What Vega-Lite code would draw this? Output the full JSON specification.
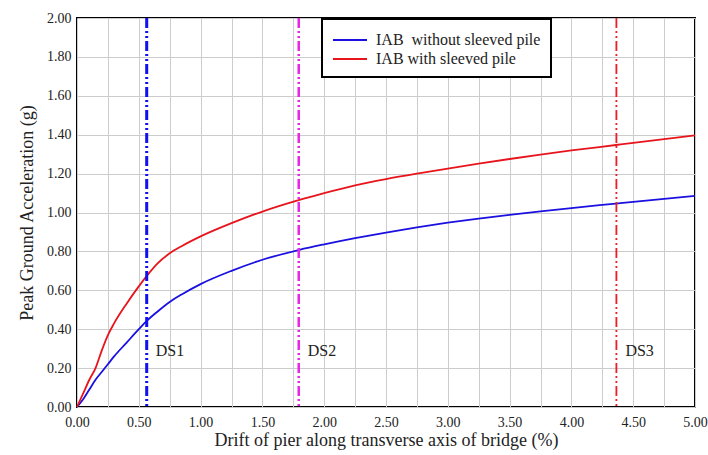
{
  "$schema": "https://vega.github.io/schema/vega-lite/v6.json",
  "width": 618,
  "height": 389,
  "autosize": "none",
  "padding": {"left": 77, "top": 18, "right": 13, "bottom": 48},
  "background": "white",
  "config": {
    "view": {"stroke": "black", "strokeWidth": 2},
    "font": "'Liberation Serif', 'Times New Roman', serif",
    "legend": {"strokeWidth": 2},
    "axis": {
      "domain": false,
      "ticks": false,
      "grid": true,
      "gridColor": "#cccccc",
      "gridWidth": 1,
      "labelFont": "'Liberation Serif', 'Times New Roman', serif",
      "labelFontSize": 14,
      "labelColor": "#222222",
      "labelOverlap": false,
      "titleFont": "'Liberation Serif', 'Times New Roman', serif",
      "titleFontSize": 18,
      "titleFontWeight": "normal",
      "titleColor": "#222222"
    }
  },
  "datasets": {
    "curves": [
      {"drift": 0, "pga": 0, "series": "IAB\u00a0 without sleeved pile"},
      {"drift": 0.05, "pga": 0.04, "series": "IAB\u00a0 without sleeved pile"},
      {"drift": 0.1, "pga": 0.09, "series": "IAB\u00a0 without sleeved pile"},
      {"drift": 0.15, "pga": 0.14, "series": "IAB\u00a0 without sleeved pile"},
      {"drift": 0.2, "pga": 0.18, "series": "IAB\u00a0 without sleeved pile"},
      {"drift": 0.25, "pga": 0.22, "series": "IAB\u00a0 without sleeved pile"},
      {"drift": 0.3, "pga": 0.26, "series": "IAB\u00a0 without sleeved pile"},
      {"drift": 0.4, "pga": 0.33, "series": "IAB\u00a0 without sleeved pile"},
      {"drift": 0.5, "pga": 0.40, "series": "IAB\u00a0 without sleeved pile"},
      {"drift": 0.56, "pga": 0.44, "series": "IAB\u00a0 without sleeved pile"},
      {"drift": 0.65, "pga": 0.49, "series": "IAB\u00a0 without sleeved pile"},
      {"drift": 0.75, "pga": 0.54, "series": "IAB\u00a0 without sleeved pile"},
      {"drift": 0.85, "pga": 0.58, "series": "IAB\u00a0 without sleeved pile"},
      {"drift": 1.0, "pga": 0.632, "series": "IAB\u00a0 without sleeved pile"},
      {"drift": 1.25, "pga": 0.70, "series": "IAB\u00a0 without sleeved pile"},
      {"drift": 1.5, "pga": 0.757, "series": "IAB\u00a0 without sleeved pile"},
      {"drift": 1.8, "pga": 0.808, "series": "IAB\u00a0 without sleeved pile"},
      {"drift": 2.0, "pga": 0.836, "series": "IAB\u00a0 without sleeved pile"},
      {"drift": 2.25, "pga": 0.868, "series": "IAB\u00a0 without sleeved pile"},
      {"drift": 2.5, "pga": 0.897, "series": "IAB\u00a0 without sleeved pile"},
      {"drift": 2.75, "pga": 0.924, "series": "IAB\u00a0 without sleeved pile"},
      {"drift": 3.0, "pga": 0.948, "series": "IAB\u00a0 without sleeved pile"},
      {"drift": 3.25, "pga": 0.969, "series": "IAB\u00a0 without sleeved pile"},
      {"drift": 3.5, "pga": 0.988, "series": "IAB\u00a0 without sleeved pile"},
      {"drift": 3.75, "pga": 1.006, "series": "IAB\u00a0 without sleeved pile"},
      {"drift": 4.0, "pga": 1.023, "series": "IAB\u00a0 without sleeved pile"},
      {"drift": 4.36, "pga": 1.046, "series": "IAB\u00a0 without sleeved pile"},
      {"drift": 4.5, "pga": 1.055, "series": "IAB\u00a0 without sleeved pile"},
      {"drift": 5.0, "pga": 1.086, "series": "IAB\u00a0 without sleeved pile"},
      {"drift": 0, "pga": 0, "series": "IAB with sleeved pile"},
      {"drift": 0.05, "pga": 0.07, "series": "IAB with sleeved pile"},
      {"drift": 0.1, "pga": 0.14, "series": "IAB with sleeved pile"},
      {"drift": 0.15, "pga": 0.2, "series": "IAB with sleeved pile"},
      {"drift": 0.2, "pga": 0.29, "series": "IAB with sleeved pile"},
      {"drift": 0.25, "pga": 0.37, "series": "IAB with sleeved pile"},
      {"drift": 0.3, "pga": 0.43, "series": "IAB with sleeved pile"},
      {"drift": 0.4, "pga": 0.53, "series": "IAB with sleeved pile"},
      {"drift": 0.5, "pga": 0.62, "series": "IAB with sleeved pile"},
      {"drift": 0.56, "pga": 0.67, "series": "IAB with sleeved pile"},
      {"drift": 0.65, "pga": 0.737, "series": "IAB with sleeved pile"},
      {"drift": 0.75, "pga": 0.79, "series": "IAB with sleeved pile"},
      {"drift": 0.85, "pga": 0.828, "series": "IAB with sleeved pile"},
      {"drift": 1.0, "pga": 0.877, "series": "IAB with sleeved pile"},
      {"drift": 1.25, "pga": 0.945, "series": "IAB with sleeved pile"},
      {"drift": 1.5, "pga": 1.005, "series": "IAB with sleeved pile"},
      {"drift": 1.8, "pga": 1.065, "series": "IAB with sleeved pile"},
      {"drift": 2.0, "pga": 1.10, "series": "IAB with sleeved pile"},
      {"drift": 2.25, "pga": 1.14, "series": "IAB with sleeved pile"},
      {"drift": 2.5, "pga": 1.172, "series": "IAB with sleeved pile"},
      {"drift": 2.75, "pga": 1.20, "series": "IAB with sleeved pile"},
      {"drift": 3.0, "pga": 1.226, "series": "IAB with sleeved pile"},
      {"drift": 3.25, "pga": 1.251, "series": "IAB with sleeved pile"},
      {"drift": 3.5, "pga": 1.275, "series": "IAB with sleeved pile"},
      {"drift": 3.75, "pga": 1.298, "series": "IAB with sleeved pile"},
      {"drift": 4.0, "pga": 1.319, "series": "IAB with sleeved pile"},
      {"drift": 4.36, "pga": 1.347, "series": "IAB with sleeved pile"},
      {"drift": 4.5, "pga": 1.358, "series": "IAB with sleeved pile"},
      {"drift": 5.0, "pga": 1.396, "series": "IAB with sleeved pile"}
    ],
    "ds": [
      {"drift": 0.564, "label": "DS1", "pga": 0.29},
      {"drift": 1.794, "label": "DS2", "pga": 0.29},
      {"drift": 4.364, "label": "DS3", "pga": 0.29}
    ]
  },
  "encoding": {
    "x": {
      "field": "drift", "type": "quantitative",
      "scale": {"domain": [0, 5], "nice": false, "zero": false},
      "axis": {
        "values": [0, 0.25, 0.5, 0.75, 1, 1.25, 1.5, 1.75, 2, 2.25, 2.5, 2.75, 3, 3.25, 3.5, 3.75, 4, 4.25, 4.5, 4.75, 5],
        "labelExpr": "(round(datum.value*4) % 2 == 0) ? format(datum.value, '.2f') : ''",
        "labelPadding": 8,
        "labelFlush": false,
        "labelOverlap": false,
        "title": "Drift of pier along transverse axis of bridge (%)",
        "titlePadding": 2
      }
    }
  },
  "layer": [
    {
      "data": {"name": "curves"},
      "mark": {"type": "line", "strokeWidth": 1.8, "interpolate": "monotone"},
      "encoding": {
        "y": {
          "field": "pga", "type": "quantitative",
          "scale": {"domain": [0, 2], "nice": false},
          "axis": {
            "values": [0, 0.2, 0.4, 0.6, 0.8, 1.0, 1.2, 1.4, 1.6, 1.8, 2.0],
            "labelExpr": "format(datum.value, '.2f')",
            "labelPadding": 6,
            "labelFlush": false,
            "labelOverlap": false,
            "labelBound": false,
            "title": "Peak Ground Acceleration (g)",
            "titlePadding": 10
          }
        },
        "color": {
          "field": "series", "type": "nominal",
          "scale": {
            "domain": ["IAB\u00a0 without sleeved pile", "IAB with sleeved pile"],
            "range": ["#1a10e0", "#e8141c"]
          },
          "legend": {
            "title": null,
            "orient": "none",
            "legendX": 245,
            "legendY": 1,
            "strokeColor": "black",
            "fillColor": "white",
            "padding": 10,
            "labelFont": "'Liberation Serif', 'Times New Roman', serif",
            "labelFontSize": 16,
            "labelColor": "#222222",
            "labelLimit": 400,
            "symbolType": "M-1,0H2.4",
            "symbolSize": 400,
            "symbolStrokeWidth": 2,
            "rowPadding": 0,
            "labelOffset": 22
          }
        }
      }
    },
    {
      "data": {"name": "ds"},
      "transform": [{"filter": "datum.label == 'DS1'"}],
      "mark": {"type": "rule", "color": "#1010f0", "strokeWidth": 3, "strokeDash": [10, 3, 2, 3, 2, 3]},
      "encoding": {}
    },
    {
      "data": {"name": "ds"},
      "transform": [{"filter": "datum.label == 'DS2'"}],
      "mark": {"type": "rule", "color": "#e628e6", "strokeWidth": 2.5, "strokeDash": [10, 3, 2, 3, 2, 3]},
      "encoding": {}
    },
    {
      "data": {"name": "ds"},
      "transform": [{"filter": "datum.label == 'DS3'"}],
      "mark": {"type": "rule", "color": "#ee1c24", "strokeWidth": 1.8, "strokeDash": [10, 3, 2, 3, 2, 3]},
      "encoding": {}
    },
    {
      "data": {"name": "ds"},
      "mark": {"type": "text", "align": "left", "baseline": "middle", "dx": 9, "font": "'Liberation Serif', 'Times New Roman', serif", "fontSize": 16, "color": "#222222"},
      "encoding": {
        "y": {
          "field": "pga", "type": "quantitative",
          "scale": {"domain": [0, 2], "nice": false},
          "axis": {
            "values": [0, 0.2, 0.4, 0.6, 0.8, 1.0, 1.2, 1.4, 1.6, 1.8, 2.0],
            "labelExpr": "format(datum.value, '.2f')",
            "labelPadding": 6,
            "labelFlush": false,
            "labelOverlap": false,
            "labelBound": false,
            "title": "Peak Ground Acceleration (g)",
            "titlePadding": 10
          }
        },
        "text": {"field": "label", "type": "nominal"}
      }
    }
  ]
}
